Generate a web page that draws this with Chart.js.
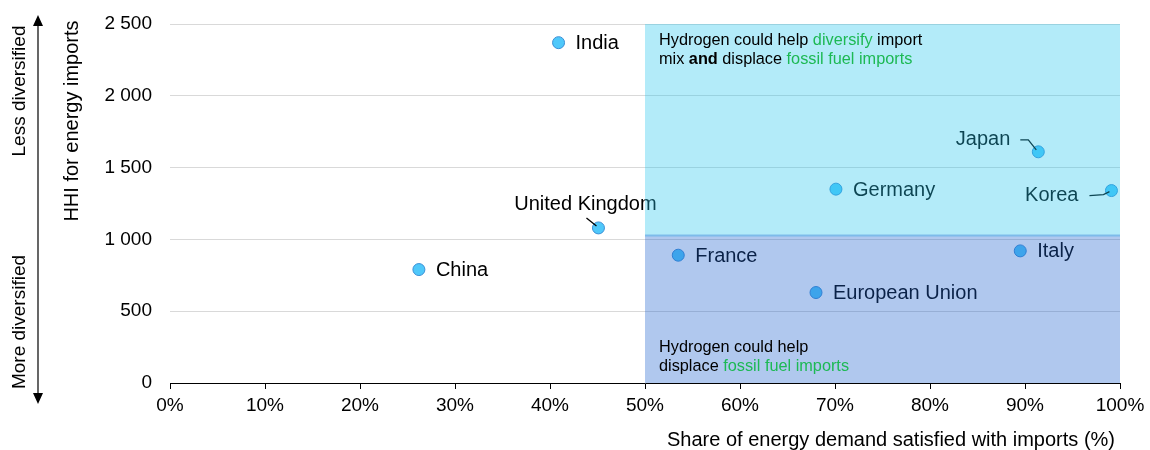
<!DOCTYPE html>
<html>
<head>
<meta charset="utf-8">
<script src="https://cdn.jsdelivr.net/npm/chart.js@4.4.0/dist/chart.umd.min.js"></script>
<style>
  body { margin: 0; background: #fff; }
  #wrap { width: 1150px; height: 450px; }
</style>
</head>
<body>
<div id="wrap"><canvas id="hhiChart" width="1150" height="450"></canvas></div>
<script>
// Data
const countries = ['India', 'United Kingdom', 'China', 'France', 'Germany', 'European Union', 'Italy', 'Japan', 'Korea'];
const importShare = [40.9, 45.1, 26.2, 53.5, 70.1, 68.0, 89.5, 91.4, 99.1];
const hhiValues = [2370, 1080, 790, 890, 1350, 630, 920, 1610, 1340];
const yTicks = [0, 500, 1000, 1500, 2000, 2500];
const xTicks = [0, 10, 20, 30, 40, 50, 60, 70, 80, 90, 100];
const shareThreshold = 50;
const hhiThreshold = 1020;

const FONT = '"Liberation Sans", Arial, sans-serif';

// label placement: side of point and optional leader line
const labelSpots = {
  'India': { side: 'right' },
  'China': { side: 'right' },
  'Germany': { side: 'right' },
  'France': { side: 'right' },
  'European Union': { side: 'right' },
  'Italy': { side: 'right' },
  'United Kingdom': { side: 'above', dx: -13, dy: -23 },
  'Japan': { side: 'left', dx: -23, dy: -12 },
  'Korea': { side: 'left', dx: -28, dy: 5 }
};

const points = countries.map((c, i) => ({ x: importShare[i], y: hhiValues[i] }));

const overlayPlugin = {
  id: 'overlay',
  afterDatasetsDraw(chart) {
    const ctx = chart.ctx;
    const xs = chart.scales.x, ys = chart.scales.y;
    const meta = chart.getDatasetMeta(0);

    // country labels
    ctx.save();
    ctx.font = '20px ' + FONT;
    ctx.fillStyle = '#000';
    ctx.strokeStyle = '#000';
    ctx.lineWidth = 1.3;
    ctx.textBaseline = 'middle';
    meta.data.forEach((pt, i) => {
      const name = countries[i];
      const spot = labelSpots[name];
      const px = pt.x, py = pt.y;
      if (spot.side === 'right') {
        ctx.textAlign = 'left';
        ctx.fillText(name, px + 17, py + 1);
      } else if (spot.side === 'above') {
        ctx.textAlign = 'center';
        ctx.fillText(name, px + spot.dx, py + spot.dy);
        ctx.beginPath();
        ctx.moveTo(px - 12, py - 10);
        ctx.lineTo(px - 2, py - 2);
        ctx.stroke();
      } else {
        ctx.textAlign = 'right';
        const tx = px + spot.dx - 5;
        ctx.fillText(name, tx, py + spot.dy);
        ctx.beginPath();
        if (name === 'Japan') {
          ctx.moveTo(px - 18, py - 12);
          ctx.lineTo(px - 10, py - 12);
          ctx.lineTo(px - 2, py - 2);
        } else {
          ctx.moveTo(px - 22, py + 5);
          ctx.lineTo(px - 8, py + 4);
          ctx.lineTo(px - 2, py + 1);
        }
        ctx.stroke();
      }
    });
    ctx.restore();

    // shaded regions
    const x0 = xs.getPixelForValue(shareThreshold);
    const x1 = xs.getPixelForValue(100);
    const yTop = ys.getPixelForValue(2500);
    const ySplit = ys.getPixelForValue(hhiThreshold);
    const yBot = ys.getPixelForValue(0);
    ctx.save();
    ctx.fillStyle = 'rgba(38, 198, 239, 0.35)';
    ctx.fillRect(x0, yTop, x1 - x0, ySplit - yTop);
    ctx.fillStyle = 'rgba(30, 97, 206, 0.35)';
    ctx.fillRect(x0, ySplit - 2, x1 - x0, yBot - ySplit + 2);
    ctx.restore();

    // region notes
    ctx.save();
    ctx.textBaseline = 'middle';
    ctx.textAlign = 'left';
    const green = '#1db954';
    const size = '16.3px ';
    const runs = (parts, x, y) => {
      parts.forEach(([t, col, bold]) => {
        ctx.font = (bold ? 'bold ' : '') + size + FONT;
        ctx.fillStyle = col;
        ctx.fillText(t, x, y);
        x += ctx.measureText(t).width;
      });
    };
    runs([['Hydrogen could help ', '#000'], ['diversify', green], [' import', '#000']], x0 + 14, yTop + 17);
    runs([['mix ', '#000'], ['and', '#000', true], [' displace ', '#000'], ['fossil fuel imports', green]], x0 + 14, yTop + 36);
    runs([['Hydrogen could help', '#000']], x0 + 14, yBot - 35);
    runs([['displace ', '#000'], ['fossil fuel imports', green]], x0 + 14, yBot - 16);
    ctx.restore();

    // y side titles and arrow
    ctx.save();
    ctx.fillStyle = '#000';
    ctx.font = '20px ' + FONT;
    ctx.textBaseline = 'middle';
    ctx.textAlign = 'center';
    const rot = (t, x, y) => {
      ctx.save();
      ctx.translate(x, y);
      ctx.rotate(-Math.PI / 2);
      ctx.fillText(t, 0, 0);
      ctx.restore();
    };
    rot('HHI for energy imports', 72, 121);
    ctx.font = '19px ' + FONT;
    rot('Less diversified', 20, 91);
    rot('More diversified', 20, 322);
    ctx.strokeStyle = '#000';
    ctx.lineWidth = 1.2;
    ctx.beginPath();
    ctx.moveTo(38, 22);
    ctx.lineTo(38, 398);
    ctx.stroke();
    ctx.beginPath();
    ctx.moveTo(38, 15); ctx.lineTo(33, 26); ctx.lineTo(43, 26); ctx.closePath();
    ctx.moveTo(38, 404); ctx.lineTo(33, 393); ctx.lineTo(43, 393); ctx.closePath();
    ctx.fill();

    // x title
    ctx.font = '20px ' + FONT;
    ctx.textAlign = 'center';
    ctx.fillText('Share of energy demand satisfied with imports (%)', 891, 440);
    ctx.restore();
  }
};

new Chart(document.getElementById('hhiChart').getContext('2d'), {
  type: 'scatter',
  data: {
    datasets: [{
      data: points,
      pointRadius: 6,
      pointHoverRadius: 6,
      backgroundColor: '#4fc8fa',
      borderColor: '#3a8fd6',
      borderWidth: 1
    }]
  },
  options: {
    responsive: false,
    animation: false,
    events: [],
    layout: { padding: { top: 24, right: 30, left: 0, bottom: 0 } },
    plugins: {
      legend: { display: false },
      tooltip: { enabled: false }
    },
    scales: {
      x: {
        type: 'linear',
        min: 0,
        max: 100,
        afterFit: (s) => { s.height = 67; s.paddingLeft = 0; s.paddingRight = 0; },
        afterBuildTicks: (s) => { s.ticks = xTicks.map(v => ({ value: v })); },
        grid: { drawOnChartArea: false, drawTicks: true, tickLength: 6, color: '#000' },
        border: { display: true, color: '#000', width: 1 },
        ticks: {
          padding: 5,
          color: '#000',
          font: { family: FONT, size: 19 },
          maxRotation: 0,
          callback: (v) => v + '%'
        }
      },
      y: {
        type: 'linear',
        min: 0,
        max: 2500,
        afterFit: (s) => { s.width = 170; s.paddingTop = 0; s.paddingBottom = 0; },
        afterBuildTicks: (s) => { s.ticks = yTicks.map(v => ({ value: v })); },
        grid: { color: '#d9d9d9', drawTicks: false, lineWidth: 1 },
        border: { display: false },
        ticks: {
          padding: 18,
          color: '#000',
          font: { family: FONT, size: 19 },
          callback: (v) => v >= 1000 ? Math.floor(v / 1000) + ' ' + String(v % 1000).padStart(3, '0') : String(v)
        }
      }
    }
  },
  plugins: [overlayPlugin]
});
</script>
</body>
</html>
